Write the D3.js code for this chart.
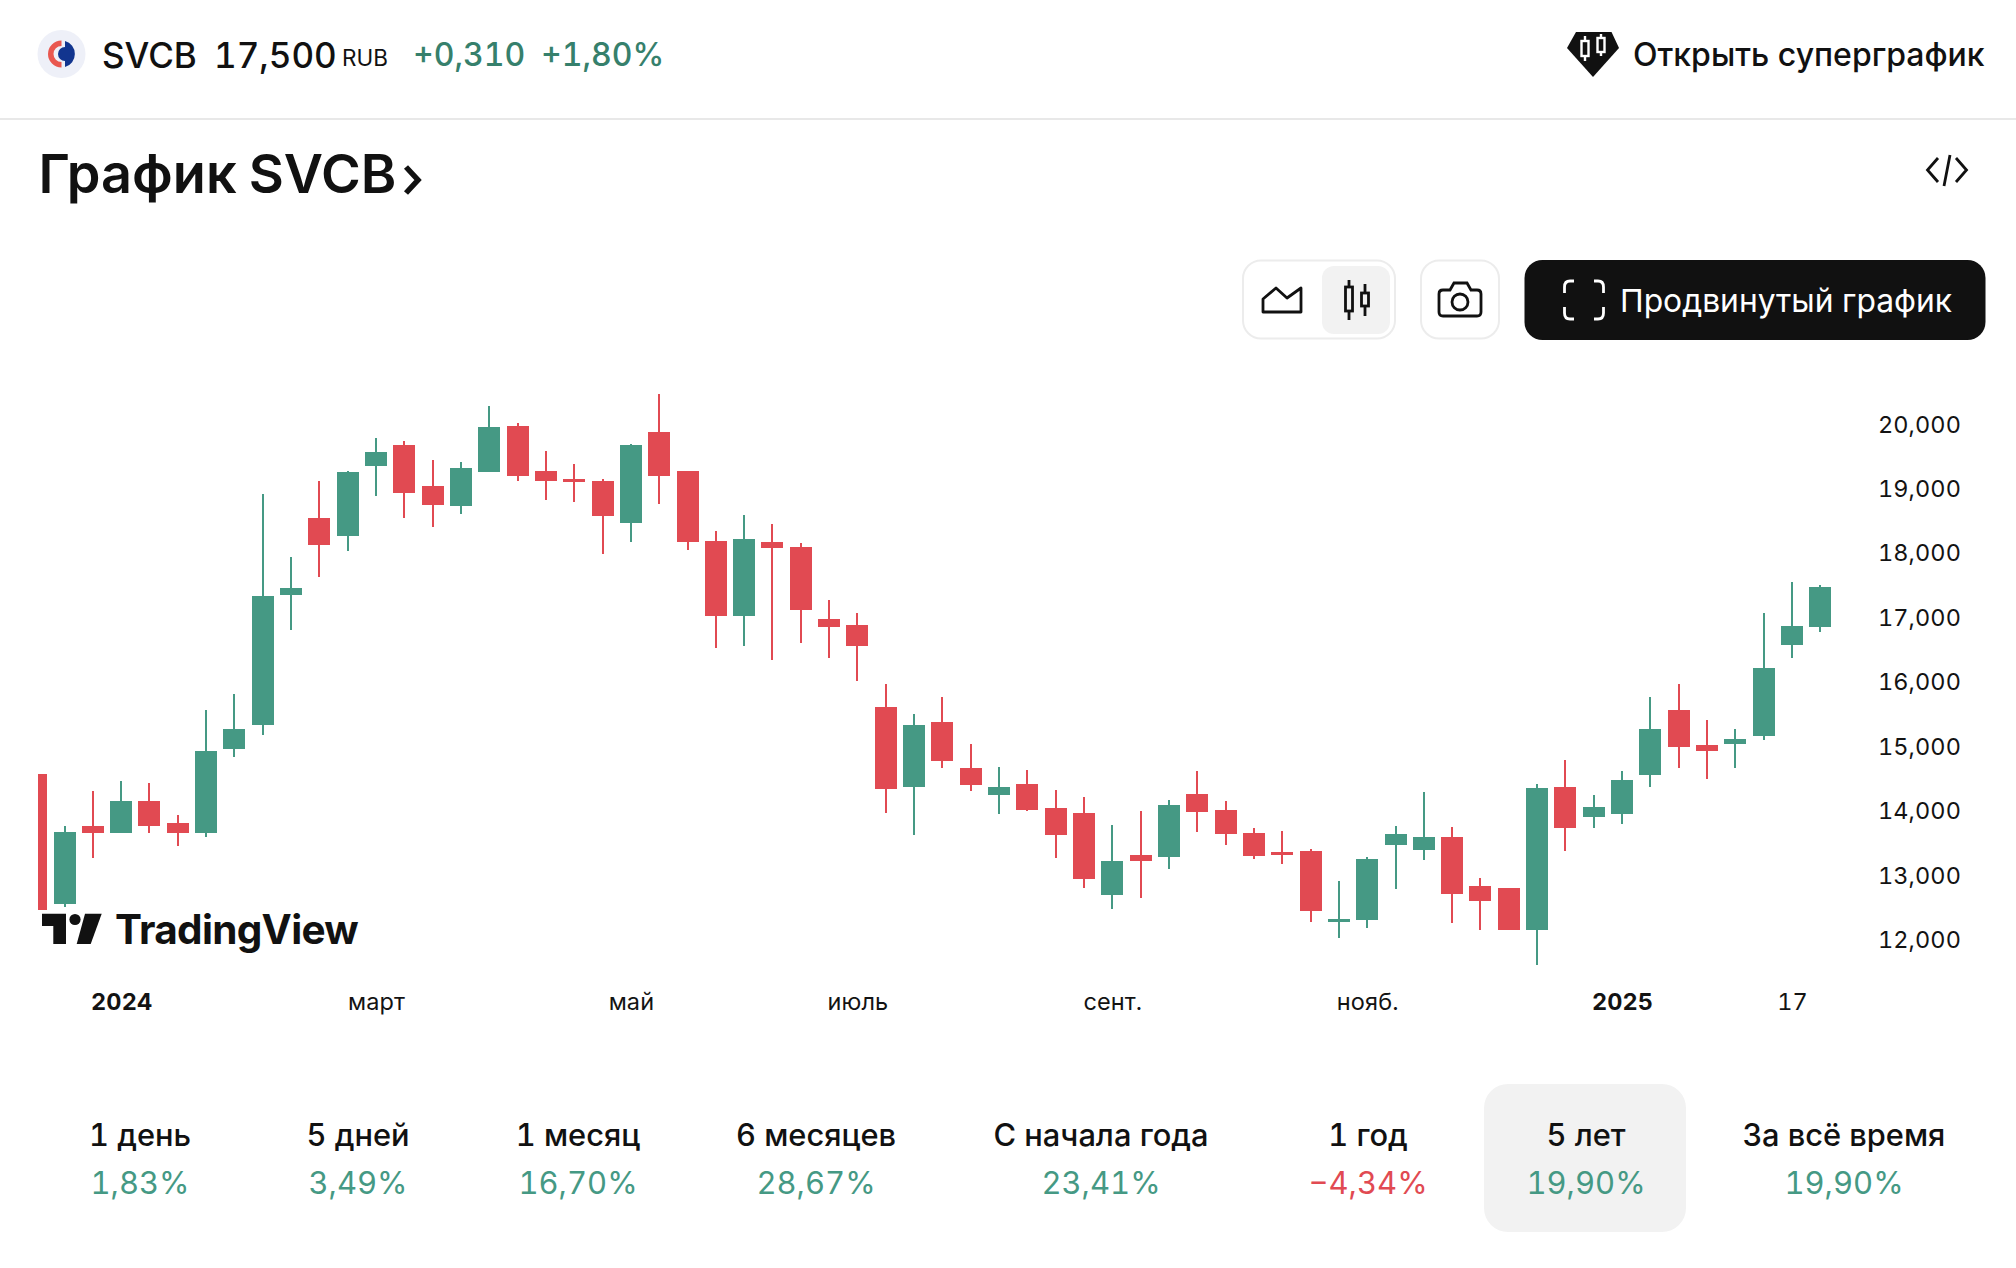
<!DOCTYPE html>
<html>

<head>
    <meta charset="utf-8">
    <title>График SVCB</title>
    <script src="https://d3js.org/d3.v7.min.js"></script>
    <style>
        html, body {
            margin: 0;
            padding: 0;
            background: #fff;
        }

        svg {
            display: block;
            font-family: Inter, "Noto Sans", sans-serif;
            font-variant-numeric: tabular-nums;
        }

        .axis path, .axis line {
            display: none;
        }

        .axis text {
            font-family: Inter, "Noto Sans", sans-serif;
            font-size: 23.5px;
            letter-spacing: 0.1px;
            fill: #131313;
        }

        .candle rect, .candle line {
            shape-rendering: crispEdges;
        }
    </style>
</head>

<body>
    <div id="chart"></div>

    <script>
        /* Weekly candles */
        var weeks = ["2023-12-11", "2023-12-18", "2023-12-25", "2024-01-01", "2024-01-08", "2024-01-15", "2024-01-22", "2024-01-29",
            "2024-02-05", "2024-02-12", "2024-02-19", "2024-02-26", "2024-03-04", "2024-03-11", "2024-03-18", "2024-03-25",
            "2024-04-01", "2024-04-08", "2024-04-15", "2024-04-22", "2024-04-29", "2024-05-06", "2024-05-13", "2024-05-20",
            "2024-05-27", "2024-06-03", "2024-06-10", "2024-06-17", "2024-06-24", "2024-07-01", "2024-07-08", "2024-07-15",
            "2024-07-22", "2024-07-29", "2024-08-05", "2024-08-12", "2024-08-19", "2024-08-26", "2024-09-02", "2024-09-09",
            "2024-09-16", "2024-09-23", "2024-09-30", "2024-10-07", "2024-10-14", "2024-10-21", "2024-10-28", "2024-11-04",
            "2024-11-11", "2024-11-18", "2024-11-25", "2024-12-02", "2024-12-09", "2024-12-16", "2024-12-23", "2024-12-30",
            "2025-01-06", "2025-01-13", "2025-01-20", "2025-01-27", "2025-02-03", "2025-02-10", "2025-02-17", "2025-02-24"];

        var opens = [14.596, 12.578, 13.786, 13.682, 14.178, 13.838, 13.682, 14.982,
            15.354, 17.372, 18.568, 18.287, 19.378, 19.704, 19.064, 18.757,
            19.280, 19.998, 19.299, 19.175, 19.142, 18.489, 19.900, 19.299,
            18.215, 17.046, 18.195, 18.117, 17.000, 16.909, 15.635, 14.394,
            15.400, 14.688, 14.270, 14.439, 14.067, 13.989, 12.715, 13.342,
            13.309, 14.283, 14.034, 13.682, 13.388, 13.401, 12.297, 12.330,
            13.492, 13.414, 13.616, 12.859, 12.826, 12.173, 14.394, 13.930,
            13.976, 14.583, 15.589, 15.047, 15.060, 15.184, 16.595, 16.876];

        var highs = [14.596, 13.786, 14.335, 14.485, 14.459, 13.963, 15.589, 15.837,
            18.940, 17.960, 19.142, 19.299, 19.809, 19.763, 19.469, 19.436,
            20.305, 20.044, 19.606, 19.404, 19.175, 19.717, 20.495, 19.299,
            18.365, 18.613, 18.476, 18.182, 17.294, 17.091, 15.994, 15.524,
            15.792, 15.060, 14.707, 14.655, 14.348, 14.237, 13.806, 14.021,
            14.191, 14.642, 14.178, 13.760, 13.714, 13.434, 12.937, 13.309,
            13.786, 14.315, 13.773, 12.983, 12.826, 14.439, 14.812, 14.270,
            14.642, 15.792, 15.994, 15.432, 15.295, 17.091, 17.575, 17.529];

        var lows = [12.493, 12.532, 13.290, 13.682, 13.682, 13.479, 13.616, 14.857,
            15.204, 16.830, 17.653, 18.058, 18.907, 18.568, 18.431, 18.633,
            19.280, 19.142, 18.849, 18.816, 18.012, 18.195, 18.783, 18.071,
            16.549, 16.582, 16.366, 16.628, 16.399, 16.040, 13.989, 13.649,
            14.688, 14.335, 13.976, 14.021, 13.290, 12.826, 12.499, 12.669,
            13.120, 13.695, 13.492, 13.277, 13.198, 12.297, 12.049, 12.205,
            12.813, 13.264, 12.284, 12.173, 12.173, 11.631, 13.401, 13.760,
            13.819, 14.394, 14.688, 14.518, 14.688, 15.125, 16.399, 16.798];

        var closes = [12.493, 13.695, 13.682, 14.178, 13.786, 13.682, 14.955, 15.295,
            17.359, 17.483, 18.150, 19.280, 19.593, 18.960, 18.770, 19.345,
            19.979, 19.221, 19.142, 19.129, 18.600, 19.704, 19.221, 18.195,
            17.046, 18.241, 18.104, 17.144, 16.876, 16.582, 14.361, 15.354,
            14.799, 14.426, 14.394, 14.034, 13.649, 12.963, 13.244, 13.244,
            14.113, 14.008, 13.662, 13.322, 13.342, 12.467, 12.343, 13.277,
            13.662, 13.616, 12.735, 12.624, 12.173, 14.381, 13.760, 14.087,
            14.505, 15.295, 15.014, 14.955, 15.138, 16.242, 16.895, 17.496];

        var priceTicks = [12, 13, 14, 15, 16, 17, 18, 19, 20];
        var timeTicks = ["2024-01-01", "2024-03-04", "2024-05-06", "2024-07-01", "2024-09-02", "2024-11-04", "2025-01-06", "2025-02-17"];
        var timeLabels = ["2024", "март", "май", "июль", "сент.", "нояб.", "2025", "17"];
        var boldTimeLabels = ["2024", "2025"];

        var periodLabels = ["1 день", "5 дней", "1 месяц", "6 месяцев", "С начала года", "1 год", "5 лет", "За всё время"];
        var periodValues = ["1,83%", "3,49%", "16,70%", "28,67%", "23,41%", "−4,34%", "19,90%", "19,90%"];
        var periodCenters = [140, 358, 578, 816, 1101, 1368, 1586, 1844];

        var width = 2016;
        var height = 1268;
        var ink = "#111111";
        var up = "#459984";
        var down = "#e14a52";
        var headerGreen = "#36806c";
        var candleWidth = 22;
        var wickWidth = 2;

        var svg = d3.select("#chart").append("svg")
            .attr("width", width)
            .attr("height", height)
            .attr("viewBox", "0 0 " + width + " " + height);

        function label(parent, x, y, text, size, weight, fill, anchor) {
            return parent.append("text")
                .attr("x", x)
                .attr("y", y)
                .attr("font-size", size)
                .attr("font-weight", weight)
                .attr("fill", fill)
                .attr("text-anchor", anchor || "start")
                .text(text);
        }

        /* Top bar */
        var topBar = svg.append("g");
        topBar.append("line").attr("x1", 0).attr("x2", width).attr("y1", 119).attr("y2", 119)
            .attr("stroke", "#e8e8e8").attr("stroke-width", 2);

        topBar.append("circle").attr("cx", 61.5).attr("cy", 54).attr("r", 24).attr("fill", "#eef0f8");
        topBar.append("path")
            .attr("transform", "translate(61.5,54)")
            .attr("d", d3.arc()({ innerRadius: 8, outerRadius: 13.5, startAngle: Math.PI, endAngle: Math.PI * 2 }))
            .attr("fill", "#e9574f");
        topBar.append("path")
            .attr("transform", "translate(61.5,54)")
            .attr("d", "M3.5,-13 A13.5,13.5 0 0 1 3.5,13 V7 A7,7 0 0 1 3.5,-7 Z")
            .attr("fill", "#12358f");

        label(topBar, 102, 68, "SVCB", 35, 500, ink);
        label(topBar, 214, 68, "17,500", 35, 500, ink);
        label(topBar, 342, 66, "RUB", 22.5, 400, ink);
        label(topBar, 413, 66, "+0,310", 32, 500, headerGreen);
        label(topBar, 541, 66, "+1,80%", 32, 500, headerGreen);

        topBar.append("path").attr("d", "M1576,32 L1611.5,32 L1619,48 L1593,77 L1567,48 Z").attr("fill", ink);
        topBar.append("path")
            .attr("d", "M1585,36 V41 M1585,56 V61 M1601,34 V38 M1601,52 V56")
            .attr("stroke", "#fff").attr("stroke-width", 2.4);
        topBar.append("rect").attr("x", 1581.5).attr("y", 41).attr("width", 7).attr("height", 15)
            .attr("fill", "none").attr("stroke", "#fff").attr("stroke-width", 2.4);
        topBar.append("rect").attr("x", 1597.5).attr("y", 38).attr("width", 7).attr("height", 14)
            .attr("fill", "none").attr("stroke", "#fff").attr("stroke-width", 2.4);
        label(topBar, 1633, 66, "Открыть суперграфик", 32, 500, ink);

        /* Title row */
        label(svg, 38.5, 193, "График SVCB", 54, 600, ink).attr("word-spacing", "-2.5");
        svg.append("path").attr("d", "M406,167 L418,180 L406,193")
            .attr("fill", "none").attr("stroke", ink).attr("stroke-width", 5.5);
        svg.append("path").attr("d", "M1938,158 L1927.5,170 L1938,182 M1956,158 L1966.5,170 L1956,182 M1950,155 L1944,186")
            .attr("fill", "none").attr("stroke", ink).attr("stroke-width", 2.8);

        /* Toolbar */
        var tools = svg.append("g");
        tools.append("rect").attr("x", 1243).attr("y", 260.5).attr("width", 152).attr("height", 78).attr("rx", 18)
            .attr("fill", "#fff").attr("stroke", "#ececec").attr("stroke-width", 2);
        tools.append("rect").attr("x", 1322).attr("y", 266).attr("width", 68).attr("height", 68).attr("rx", 12)
            .attr("fill", "#f2f2f2");
        tools.append("path").attr("d", "M1263,312 V299 L1276,288 L1287,298 L1301,288 V312 Z")
            .attr("fill", "none").attr("stroke", ink).attr("stroke-width", 2.8).attr("stroke-linejoin", "round");
        tools.append("path").attr("d", "M1349,280 V320 M1365,284 V316")
            .attr("stroke", ink).attr("stroke-width", 2.8);
        tools.append("rect").attr("x", 1345.5).attr("y", 287).attr("width", 7).attr("height", 24)
            .attr("fill", "#f2f2f2").attr("stroke", ink).attr("stroke-width", 2.8);
        tools.append("rect").attr("x", 1361.5).attr("y", 293).attr("width", 7).attr("height", 13)
            .attr("fill", "#f2f2f2").attr("stroke", ink).attr("stroke-width", 2.8);

        tools.append("rect").attr("x", 1421).attr("y", 260.5).attr("width", 78).attr("height", 78).attr("rx", 18)
            .attr("fill", "#fff").attr("stroke", "#ececec").attr("stroke-width", 2);
        tools.append("path")
            .attr("d", "M1443,290 H1450 L1454,283 H1467 L1471,290 H1477 Q1481,290 1481,294 V312 Q1481,316 1477,316 H1443 Q1439,316 1439,312 V294 Q1439,290 1443,290 Z")
            .attr("fill", "none").attr("stroke", ink).attr("stroke-width", 2.8);
        tools.append("circle").attr("cx", 1460).attr("cy", 302).attr("r", 8)
            .attr("fill", "none").attr("stroke", ink).attr("stroke-width", 2.8);

        tools.append("rect").attr("x", 1524.5).attr("y", 260).attr("width", 461).attr("height", 80).attr("rx", 18)
            .attr("fill", ink);
        tools.append("path")
            .attr("d", "M1574,281 H1570 Q1564.5,281 1564.5,287 V293 M1594,281 H1598 Q1603.5,281 1603.5,287 V293 M1574,319 H1570 Q1564.5,319 1564.5,313 V307 M1594,319 H1598 Q1603.5,319 1603.5,313 V307")
            .attr("fill", "none").attr("stroke", "#fff").attr("stroke-width", 2.8);
        label(tools, 1620, 312, "Продвинутый график", 31.8, 400, "#fff");

        /* Scales */
        var x = d3.scalePoint().domain(weeks).range([36.2, 1820.3]);
        var y = d3.scaleLinear().domain([12, 20]).range([941.3, 425.7]);

        var decimalComma = d3.formatLocale({ decimal: ",", thousands: " ", grouping: [3], currency: ["", ""] });

        svg.append("clipPath").attr("id", "plot-clip")
            .append("rect").attr("x", 38).attr("y", 380).attr("width", 1830).attr("height", 600);

        /* Candles */
        var candles = svg.append("g")
            .attr("clip-path", "url(#plot-clip)")
            .selectAll(".candle")
            .data(weeks).enter()
            .append("g")
            .attr("class", "candle")
            .attr("fill", (d, i) => closes[i] >= opens[i] ? up : down)
            .attr("stroke", "none");

        candles.append("rect")
            .attr("x", d => x(d) - wickWidth / 2)
            .attr("width", wickWidth)
            .attr("y", (d, i) => y(highs[i]))
            .attr("height", (d, i) => y(lows[i]) - y(highs[i]));

        candles.append("rect")
            .attr("x", d => x(d) - candleWidth / 2)
            .attr("width", candleWidth)
            .attr("y", (d, i) => y(Math.max(opens[i], closes[i])))
            .attr("height", (d, i) => Math.abs(y(opens[i]) - y(closes[i])));

        /* Axes */
        var yAxis = d3.axisRight(y)
            .tickValues(priceTicks)
            .tickSize(0)
            .tickPadding(0)
            .tickFormat(decimalComma.format(".3f"));

        svg.append("g")
            .attr("class", "axis")
            .attr("transform", "translate(1961,0)")
            .call(yAxis)
            .selectAll("text")
            .attr("text-anchor", "end")
            .attr("dy", "0.27em");

        var xAxis = d3.axisBottom(x)
            .tickValues(timeTicks)
            .tickSize(0)
            .tickPadding(0)
            .tickFormat((d, i) => timeLabels[i]);

        svg.append("g")
            .attr("class", "axis")
            .attr("transform", "translate(0,993)")
            .call(xAxis)
            .selectAll("text")
            .style("font-weight", (d, i) => boldTimeLabels.indexOf(timeLabels[i]) >= 0 ? 700 : 400);

        /* TradingView mark */
        var tv = svg.append("g").attr("fill", ink);
        tv.append("path").attr("d", "M42,913.7 H66 V944 H53.3 V926 H42 Z");
        tv.append("circle").attr("cx", 75).attr("cy", 919.5).attr("r", 5.6);
        tv.append("path").attr("d", "M85,913.7 H101.7 L90.7,944 H76.7 Z");
        label(tv, 115, 944, "TradingView", 40.5, 700, ink).attr("letter-spacing", "-0.7");

        /* Period tabs */
        svg.append("rect")
            .attr("x", 1484).attr("y", 1084).attr("width", 202).attr("height", 148).attr("rx", 24)
            .attr("fill", "#f2f2f2");

        var tabs = svg.selectAll(".period")
            .data(periodLabels).enter()
            .append("g")
            .attr("class", "period");

        tabs.append("text")
            .attr("x", (d, i) => periodCenters[i])
            .attr("y", 1146)
            .attr("text-anchor", "middle")
            .attr("font-size", 30.8)
            .attr("font-weight", 500)
            .attr("fill", ink)
            .text(d => d);

        tabs.append("text")
            .attr("x", (d, i) => periodCenters[i])
            .attr("y", 1194)
            .attr("text-anchor", "middle")
            .attr("font-size", 31)
            .attr("font-weight", 400)
            .attr("fill", (d, i) => periodValues[i].charAt(0) === "−" ? down : up)
            .text((d, i) => periodValues[i]);
    </script>
</body>

</html>
